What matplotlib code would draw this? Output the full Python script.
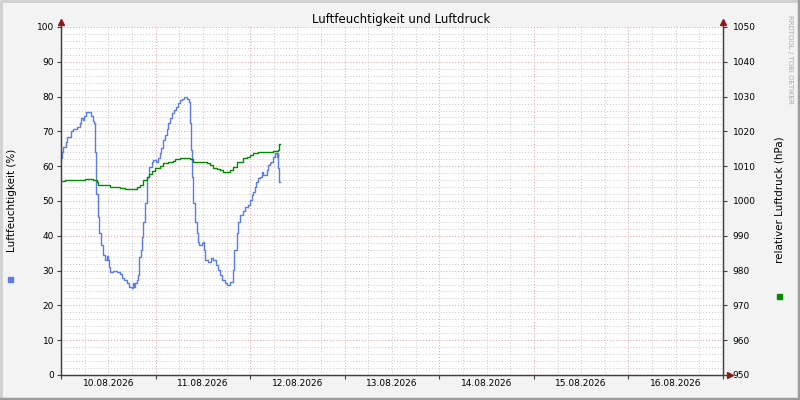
import matplotlib
matplotlib.use("Agg")
import matplotlib.pyplot as plt

# hours since 10.08.2026 00:00
hum_h = [0.0, 0.2, 0.6, 1.3, 1.6, 2.5, 3.1, 4.0, 4.7, 5.0, 5.5, 5.8, 6.3, 7.5, 8.0,
         8.5, 8.7, 8.8, 9.0, 9.5, 9.7, 10.1, 10.6, 10.7, 11.2, 11.6, 11.9, 12.2, 12.4,
         13.3, 14.1, 15.0, 15.4, 16.0, 16.7, 17.3, 17.9, 18.2, 18.5, 18.9, 19.4, 19.6,
         19.8, 20.2, 20.5, 20.7, 21.3, 21.7, 21.9, 22.4, 23.0, 23.4, 24.1, 24.7, 25.1,
         25.5, 26.0, 26.4, 26.8, 27.2, 27.7, 28.1, 28.7, 29.2, 29.8, 30.2, 30.6, 31.2,
         32.1, 32.5, 32.7, 32.9, 33.2, 33.6, 34.0, 34.4, 34.8, 35.1, 35.7, 36.1, 36.2,
         36.5, 37.4, 38.0, 38.5, 39.3, 39.9, 40.3, 40.8, 41.6, 42.0, 43.0, 43.7, 44.0,
         44.6, 45.0, 45.4, 46.3, 46.7, 47.5, 48.0, 48.4, 48.8, 49.2, 49.6, 50.1, 50.5,
         50.9, 51.3, 52.2, 52.6, 53.0, 53.4, 53.9, 54.3, 54.7, 55.0, 55.1, 55.4, 55.7]
hum_v = [62.3, 64.2, 65.5, 67.0, 68.5, 70.2, 70.6, 71.2, 72.3, 73.8, 73.3, 74.4, 75.7, 74.3, 73.1,
         72.3, 64.2, 56.0, 52.0, 45.5, 40.7, 37.4, 36.0, 34.5, 33.0, 34.3, 33.0, 31.1, 29.7,
         29.8, 29.5, 29.0, 27.8, 27.2, 26.3, 25.2, 25.0, 26.3, 25.2, 26.3, 27.2, 28.7,
         34.0, 36.0, 39.7, 44.0, 49.3, 53.2, 57.0, 59.8, 61.3, 61.8, 61.3, 62.3, 63.7,
         65.1, 67.5, 69.0, 70.6, 72.3, 73.8, 75.2, 76.1, 77.1, 78.1, 79.0, 79.4, 79.8,
         79.2, 78.4, 72.3, 64.6, 56.8, 49.4, 44.0, 40.7, 38.3, 37.4, 37.8, 38.3, 36.0,
         33.0, 32.6, 33.5, 33.0, 31.6, 30.2, 28.7, 27.3, 26.3, 25.9, 26.8, 30.2, 36.0,
         40.7, 44.0, 46.0, 47.0, 48.4, 48.9, 50.3, 51.7, 52.6, 54.1, 55.5, 56.5, 57.0,
         58.4, 57.5, 58.9, 60.3, 60.8, 61.3, 62.7, 63.7, 62.7, 63.7, 59.4, 55.5, 55.5]

pres_h = [0.0, 1.0, 4.0, 6.1, 8.2, 9.05, 9.5, 12.0, 12.4, 13.3, 14.1, 15.0, 16.2, 18.8,
          19.2, 20.0, 20.9, 21.7, 22.4, 23.0, 23.8, 25.1, 26.0, 27.2, 28.5, 28.9, 30.2,
          31.0, 32.3, 32.7, 33.4, 37.0, 37.8, 38.6, 39.5, 40.3, 41.2, 42.9, 43.7, 44.6,
          46.3, 47.1, 47.9, 48.8, 50.1, 52.2, 53.9, 55.1, 55.4, 55.7]
pres_v = [1005.7, 1006.0, 1006.0, 1006.2, 1006.0, 1005.6, 1004.6, 1004.6, 1003.9, 1004.1,
          1003.9, 1003.6, 1003.4, 1003.4, 1003.9, 1004.6, 1006.0, 1007.0, 1007.9, 1008.7,
          1009.4, 1010.0, 1010.8, 1011.3, 1011.6, 1012.0, 1012.3, 1012.5, 1012.4, 1012.0,
          1011.3, 1010.8, 1010.3, 1009.6, 1009.2, 1008.9, 1008.4, 1008.9, 1009.8, 1011.3,
          1012.3, 1012.7, 1013.2, 1013.7, 1014.0, 1014.2, 1014.4, 1014.7, 1016.4, 1016.4]

day_labels = ["10.08.2026", "11.08.2026", "12.08.2026", "13.08.2026",
              "14.08.2026", "15.08.2026", "16.08.2026"]

BG = "#f3f3f3"
AXC = "#404040"
ARROW = "#8b1a1a"
GRID_MINOR = "#c8c8c8"
GRID_MAJOR = "#e6a0a0"
BLUE = "#5a7ce8"
GREEN = "#008c00"
FONT = "DejaVu Sans"

fig = plt.figure(figsize=(8, 4), dpi=100, facecolor=BG)
ax = fig.add_axes([61 / 800, 25 / 400, 662 / 800, 348 / 400])
ax.set_facecolor("white")
ax2 = ax.twinx()

span = 24 * len(day_labels)
ax.set_xlim(0, span)
ax.set_ylim(0, 100)
ax2.set_ylim(950, 1050)

# grid
for h in range(0, span + 1, 6):
    c = GRID_MAJOR if h % 24 == 0 else GRID_MINOR
    ax.axvline(h, color=c, lw=0.7, ls=(0, (1, 2)), zorder=0)
for y in range(0, 101, 2):
    c = GRID_MAJOR if y % 10 == 0 else GRID_MINOR
    ax.axhline(y, color=c, lw=0.7, ls=(0, (1, 2)), zorder=0)

ax.plot(hum_h, hum_v, drawstyle="steps-post", color=BLUE, lw=1.0, zorder=3)
ax2.plot(pres_h, pres_v, drawstyle="steps-post", color=GREEN, lw=1.0, zorder=3)

# ticks
ax.set_xticks([24 * i + 12 for i in range(len(day_labels))])
ax.set_xticklabels(day_labels)
ax.set_xticks(range(0, span + 1, 24), minor=True)
ax.tick_params(axis="x", which="major", length=0, pad=3, labelsize=6.5, colors="black")
ax.tick_params(axis="x", which="minor", length=3, color=AXC, width=0.8)
ax.set_yticks(range(0, 101, 10))
ax.tick_params(axis="y", length=3, color=AXC, width=0.8, labelsize=6.5, pad=2)
ax2.set_yticks(range(950, 1051, 10))
ax2.tick_params(axis="y", length=3, color=AXC, width=0.8, labelsize=6.5, pad=4)
for lab in ax.get_xticklabels() + ax.get_yticklabels() + ax2.get_yticklabels():
    lab.set_family(FONT)

for a in (ax, ax2):
    a.spines["top"].set_visible(False)
    for s in ("left", "right", "bottom"):
        a.spines[s].set_color(AXC)
        a.spines[s].set_linewidth(0.9)

# axis arrows
ax.plot([1.0, 1.009], [0, 0], transform=ax.transAxes, color=AXC, lw=0.9, clip_on=False)
ax.plot([1.01], [0], transform=ax.transAxes, marker=">", color=ARROW, ms=4, clip_on=False)
ax.plot([0, 0], [1.0, 1.012], transform=ax.transAxes, color=AXC, lw=0.9, clip_on=False)
ax.plot([0], [1.013], transform=ax.transAxes, marker="^", color=ARROW, ms=4, clip_on=False)
ax.plot([1, 1], [1.0, 1.012], transform=ax.transAxes, color=AXC, lw=0.9, clip_on=False)
ax.plot([1], [1.013], transform=ax.transAxes, marker="^", color=ARROW, ms=4, clip_on=False)

# texts
fig.text(0.501, 0.952, "Luftfeuchtigkeit und Luftdruck", ha="center", va="center",
         fontsize=8.5, family=FONT)
fig.text(12 / 800, 0.5, "Luftfeuchtigkeit (%)", rotation=90, ha="center", va="center",
         fontsize=7.5, family=FONT)
fig.text(779 / 800, 0.502, "relativer Luftdruck (hPa)", rotation=90, ha="center", va="center",
         fontsize=7.5, family=FONT)
fig.text(790 / 800, 0.962, "RRDTOOL / TOBI OETIKER", rotation=270, ha="center", va="top",
         fontsize=5, color="#a8a8a8", family=FONT)

# legend squares
fig.patches.append(plt.Rectangle((8 / 800, 118 / 400), 5 / 800, 5 / 400,
                                 transform=fig.transFigure, color=BLUE))
fig.patches.append(plt.Rectangle((777 / 800, 101 / 400), 5 / 800, 5 / 400,
                                 transform=fig.transFigure, color=GREEN))

# frame
fig.add_artist(plt.Line2D([0.5 / 800, 0.5 / 800, 799.5 / 800], [1.5 / 400, 399 / 400, 399 / 400],
                          transform=fig.transFigure, color="#d0d0d0", lw=2))
fig.add_artist(plt.Line2D([1 / 800, 799 / 800, 799 / 800], [1 / 400, 1 / 400, 399 / 400],
                          transform=fig.transFigure, color="#9c9c9c", lw=2.5))

fig.savefig("out.png", dpi=100, facecolor=BG)
